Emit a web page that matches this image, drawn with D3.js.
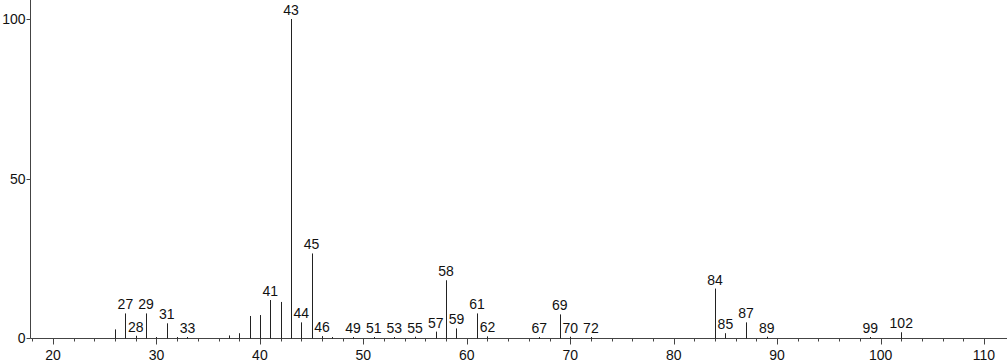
<!DOCTYPE html>
<html><head><meta charset="utf-8">
<script src="https://cdn.jsdelivr.net/npm/d3@7"></script>
<style>
html,body{margin:0;padding:0;background:#fff;}
svg{display:block;font-family:"Liberation Sans",Arial,Helvetica,sans-serif;}
</style></head>
<body>
<svg id="chart" width="1007" height="362"></svg>
<script>
// m/z values and relative intensities (%)
const mz =        [26, 27, 28, 29, 30, 31, 32, 33, 37, 38, 39, 40, 41, 42, 43, 44, 45, 46, 47, 49, 51, 53, 55, 57, 58, 59, 61, 62, 67, 69, 70, 72, 84, 85, 87, 89, 99, 102];
const intensity = [2.7,7.7,0.7,7.7,0.3,4.6,0.3,0.3,0.8,1.5,6.9,7.2,11.9,11.3,100,4.9,26.5,0.6,0.3,0.3,0.3,0.3,0.4,2.0,18.1,3.0,7.7,0.5,0.3,7.4,0.4,0.3,15.5,1.5,4.9,0.4,0.3,1.8];
const labeledMz = [27, 28, 29, 31, 33, 41, 43, 44, 45, 46, 49, 51, 53, 55, 57, 58, 59, 61, 62, 67, 69, 70, 72, 84, 85, 87, 89, 99, 102];
const xMajorTicks = [20, 30, 40, 50, 60, 70, 80, 90, 100, 110];
const yTicks = [0, 50, 100];

const svg = d3.select("#chart");
const x = d3.scaleLinear().domain([20, 110]).range([53, 984]);
const y = d3.scaleLinear().domain([0, 100]).range([338, 19]);
const axisColor = "#444";
const baseY = Math.round(y(0)) + 0.5;
const leftX = 30.5;

// y axis line
svg.append("line").attr("x1", leftX).attr("x2", leftX).attr("y1", 0).attr("y2", baseY)
  .attr("stroke", axisColor).attr("stroke-width", 1);
// x axis line
svg.append("line").attr("x1", leftX).attr("x2", 1007).attr("y1", baseY).attr("y2", baseY)
  .attr("stroke", axisColor).attr("stroke-width", 1);

// x ticks: minor every 2, major every 10
const minorTicks = d3.range(18, 112, 2).filter(v => v % 10 !== 0);
svg.append("g").selectAll("line").data(minorTicks).join("line")
  .attr("x1", d => Math.round(x(d)) + 0.5).attr("x2", d => Math.round(x(d)) + 0.5)
  .attr("y1", baseY).attr("y2", baseY + 3)
  .attr("stroke", axisColor);
svg.append("g").selectAll("line").data(xMajorTicks).join("line")
  .attr("x1", d => Math.round(x(d)) + 0.5).attr("x2", d => Math.round(x(d)) + 0.5)
  .attr("y1", baseY).attr("y2", baseY + 6)
  .attr("stroke", axisColor);
svg.append("g").selectAll("text").data(xMajorTicks).join("text")
  .attr("x", d => x(d)).attr("y", 360)
  .attr("text-anchor", "middle").attr("font-size", 14).attr("fill", "#111")
  .text(d => d);

// y ticks
svg.append("g").selectAll("line").data(yTicks).join("line")
  .attr("x1", leftX - 4).attr("x2", leftX)
  .attr("y1", d => Math.round(y(d)) + 0.5).attr("y2", d => Math.round(y(d)) + 0.5)
  .attr("stroke", axisColor);
svg.append("g").selectAll("text").data(yTicks).join("text")
  .attr("x", leftX - 5).attr("y", d => y(d) + 5)
  .attr("text-anchor", "end").attr("font-size", 14).attr("fill", "#111")
  .text(d => d);

// peaks
const data = mz.map((m, i) => ({m, v: intensity[i]}));
svg.append("g").selectAll("line").data(data).join("line")
  .attr("x1", d => Math.round(x(d.m)) + 0.5).attr("x2", d => Math.round(x(d.m)) + 0.5)
  .attr("y1", baseY).attr("y2", d => y(d.v))
  .attr("stroke", "#222").attr("stroke-width", 1);

// labels
const labelData = data.filter(d => labeledMz.includes(d.m));
svg.append("g").selectAll("text").data(labelData).join("text")
  .attr("x", d => x(d.m)).attr("y", d => y(d.v) - 4)
  .attr("text-anchor", "middle").attr("font-size", 14).attr("fill", "#111")
  .text(d => d.m);
</script>
</body></html>
